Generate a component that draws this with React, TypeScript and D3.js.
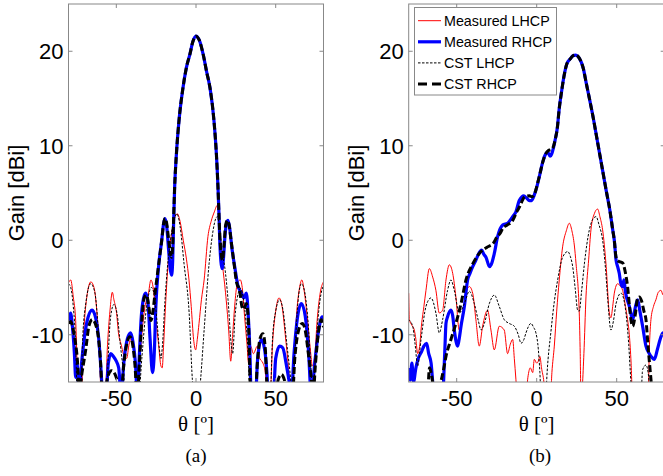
import { useEffect, useRef } from "react";
import * as d3 from "d3";

type Pt = [number, number]; // [theta deg, gain dBi]

// ---------- panel (a): broadside beam ----------
const measLhcpA: Pt[] = [
  [-80, -4.5], [-78.6, -4.2], [-77, -6], [-75.5, -8.5], [-74.8, -12], [-74, -16.5], [-72, -16.5], [-70.5, -10],
  [-68.5, -6], [-66, -4.4], [-64, -5], [-62, -8], [-60.5, -12], [-59.5, -16.5], [-57, -16.5], [-55.5, -11],
  [-54, -7.5], [-52.5, -5.5], [-51.5, -6.3], [-50, -7.5], [-48.5, -10], [-47, -11], [-45, -12.3], [-43.5, -12.5],
  [-42, -11], [-40, -10.2], [-38.5, -11.8], [-37, -14], [-35.5, -13], [-34, -10], [-32, -7], [-30, -5.8],
  [-28.3, -4.2], [-26.5, -5.5], [-25, -8.5], [-23.5, -11], [-22, -13.3], [-21.2, -13.5], [-20.3, -11], [-19, -6.5],
  [-17.5, -2.5], [-15.5, 0.5], [-13.5, 2.3], [-11.7, 2.8], [-10, 2], [-8, 0], [-6, -2], [-4.4, -4.2], [-3, -7],
  [-1.5, -10.5], [-0.2, -11.6], [0.8, -10.5], [1.9, -8.8], [3.4, -6.3], [5.1, -4.2], [7.5, 0.4], [9.5, 2],
  [11.5, 3], [13.4, 3.7], [15, 1], [16.6, -2.5], [18.5, -5.5], [20.5, -9.5], [21.8, -12.8], [23, -10],
  [24.5, -6.5], [26, -4.5], [27.8, -4.2], [29, -5], [30.5, -8.1], [32, -11], [33, -13], [34.3, -11.2], [36, -12],
  [38.5, -11.2], [40, -12.5], [42, -13], [43.5, -14], [44.8, -16.5], [46.5, -16.5], [48, -11], [50, -7.5],
  [52.1, -6.1], [54, -7], [56, -10], [58, -13.5], [59.4, -16.5], [61.5, -12], [63.5, -7], [65, -5], [66.4, -4.2],
  [68, -5.5], [70, -8.5], [72, -12], [73, -13.3], [74.5, -12.3], [76, -8.5], [78, -5.5], [80, -4.4],
];

const measRhcpA: Pt[] = [
  [-80, -8.5], [-78.7, -7.7], [-77.5, -9.2], [-76.3, -12], [-75.5, -14.5], [-74.6, -13], [-73.4, -16.5],
  [-71.8, -13], [-69.8, -10], [-67.8, -8.2], [-65.2, -7.4], [-63, -8.2], [-61, -10.5], [-59.5, -14],
  [-58.5, -16.5], [-56.5, -16.5], [-55, -13], [-53.5, -12], [-51.8, -12.3], [-50, -12.8], [-48.5, -13.5],
  [-47, -16.5], [-45.2, -12.8], [-43, -10.4], [-41, -9.8], [-39.5, -10.8], [-38, -13], [-36.8, -16.5],
  [-35.5, -12], [-34.5, -8.5], [-33, -6.2], [-31.6, -5.6], [-30.2, -6.5], [-28.8, -10.5], [-27.3, -14],
  [-26.2, -12], [-25.2, -7], [-23.6, -3], [-21.5, 0], [-20.3, 1.8], [-19.5, 2.3], [-18.4, 1.5], [-17.2, -1],
  [-16.2, -3], [-15.3, -3.7], [-14.6, -2], [-14.1, 1.5], [-13.4, 5.6], [-12.3, 9.1], [-10.7, 12.6],
  [-8.2, 16.1], [-6, 18.3], [-3.8, 19.7], [-2, 21], [0, 21.6], [2, 21.2], [4.6, 19.6], [6.7, 17.8],
  [8.8, 16.1], [11.3, 12.6], [12.8, 9.1], [13.8, 5.6], [14.4, 2.8], [14.9, 0], [15.6, -2.2], [16.4, -3],
  [17.2, -2], [18.2, 0.5], [19.2, 1.8], [20.1, 2.1], [21.2, 1.2], [22.5, -0.8], [24.3, -2.8], [26.3, -4.8],
  [28.5, -5.6], [30, -6.1], [31.6, -5.6], [32.8, -8], [33.7, -11.2], [34.7, -16.5], [37.3, -16.5],
  [38.7, -12.5], [41, -10.5], [43, -11.5], [44.5, -14], [45.4, -16.5], [48.5, -16.5], [50, -12.5],
  [52.5, -11.2], [54.5, -11.4], [56.5, -13], [58.5, -15], [59.8, -16.5], [61.5, -12], [63.5, -8.4],
  [66.1, -6.7], [68.5, -8], [70.5, -11.5], [72.4, -16.5], [74.5, -13], [77, -9.5], [79.2, -8.1], [80, -8.3],
];

const cstLhcpA: Pt[] = [
  [-80, -4.6], [-78.6, -5], [-77, -7], [-75.5, -11], [-74.5, -16.5], [-72.5, -16.5], [-71, -10], [-69, -6.5],
  [-66.1, -4.6], [-63.5, -5.5], [-61.5, -9], [-60, -13], [-59, -16.5], [-56, -16.5], [-55, -12], [-53.5, -8],
  [-51.5, -6.8], [-49.5, -7.8], [-47.5, -11], [-45.5, -14], [-44, -16.5], [-36, -16.5], [-34, -12.5],
  [-32, -8.5], [-30, -6], [-28, -5], [-26, -6], [-24.5, -8.5], [-23, -11.5], [-22, -12.5], [-21, -11],
  [-19.5, -6.5], [-18, -3], [-16, 0], [-14, 2], [-12.1, 2.8], [-10, 1.5], [-7.5, -2.5], [-4.3, -7.7],
  [-2.3, -14.7], [-1.5, -16.5], [2, -16.5], [3, -14.5], [5.1, -9.5], [8.2, -2.5], [10.5, 0.8], [12.4, 2.3],
  [13.4, 2.5], [15, 1], [16.6, -1.5], [18, -2.8], [20.1, -6.3], [22.2, -11.2], [23, -12], [24.5, -8], [26, -6],
  [28, -5.1], [30, -6.5], [32.6, -11.6], [34, -16.5], [46.5, -16.5], [48, -10.5], [50, -7.5], [52.5, -6.3],
  [54.5, -7.3], [57, -11], [59, -14], [60.5, -16.5], [62, -12], [64, -6.5], [66.1, -4.6], [68, -5.3], [70, -8],
  [72, -13], [73.4, -16.5], [75, -12], [77, -7.5], [79.7, -4.9], [80, -4.8],
];

const cstRhcpA: Pt[] = [
  [-80, -8.8], [-78.6, -8.6], [-77, -9.5], [-75.5, -11], [-74.5, -12.5], [-73.2, -16], [-71.5, -14],
  [-69.2, -11.6], [-67.2, -9.1], [-65, -8.4], [-62, -9.5], [-60, -12.6], [-58.8, -16], [-57, -16],
  [-55.5, -14.5], [-53, -13.8], [-50.5, -14.3], [-48.5, -15.5], [-47, -16.5], [-45.5, -13.5], [-43.5, -11],
  [-41.5, -10.2], [-40, -10.8], [-38.5, -12.8], [-36.8, -16.5], [-35.5, -13], [-34, -8.5], [-32.3, -6],
  [-31, -5.8], [-29.5, -7.2], [-28.3, -8.5], [-27, -7.5], [-25.7, -5.6], [-23.6, -2.8], [-21.5, 0],
  [-20.3, 1.8], [-19.5, 2.3], [-18.5, 1.9], [-17.3, 0.3], [-16.2, -1.2], [-15.4, -1.8], [-14.6, -0.5],
  [-14.1, 2], [-13.4, 5.6], [-12.3, 9.1], [-10.7, 12.6], [-8.2, 16.1], [-6, 18.3], [-3.8, 19.7], [-2, 21],
  [0, 21.6], [2, 21.2], [4.6, 19.6], [6.7, 17.8], [8.8, 16.1], [11.3, 12.6], [12.8, 9.1], [13.8, 5.6],
  [14.4, 2.8], [15, 0.3], [15.8, -1.5], [16.6, -2.1], [17.6, -0.5], [18.6, 1.6], [19.7, 2.1], [20.8, 1.6],
  [22, 0], [23.9, -2.5], [25.5, -4.5], [27.4, -5.3], [28.8, -7], [30, -7.3], [31.6, -6.7], [33, -9],
  [34.4, -16.5], [37.2, -16.5], [38.5, -13], [40.2, -10.4], [42, -9.9], [43.5, -11.5], [45, -16.5],
  [49.5, -16.5], [51.5, -14.8], [53.5, -14.2], [55.5, -14.8], [57, -16.5], [60.5, -16.5], [62, -12.5],
  [64, -9.8], [66.7, -8.8], [68.5, -9.5], [70.5, -12], [72.3, -14.5], [73.4, -16.5], [75, -13], [76.8, -9.8],
  [78.6, -8.4], [80, -9.2],
];

// ---------- panel (b): steered beam ----------
const measLhcpB: Pt[] = [
  [-80, -5.6], [-79.6, -8.4], [-78, -9], [-76.5, -9.5], [-75.5, -10.5], [-74.4, -12], [-73, -11], [-72.3, -9.5],
  [-70.5, -7], [-69.2, -5.3], [-67.1, -3], [-65, -3.9], [-63, -5.3], [-60.9, -7.7], [-58.8, -7.4], [-56.7, -4.2],
  [-54.6, -2.6], [-52.5, -3.5], [-50.5, -6], [-48.4, -9.5], [-46.3, -7.7], [-44.2, -5.6], [-42.1, -4.9],
  [-40, -5.6], [-38, -8.4], [-35.9, -11.2], [-33.8, -9.1], [-30.7, -7.4], [-28.6, -9.5], [-26.5, -11.6],
  [-23.4, -9.1], [-20.3, -9.5], [-18.2, -12], [-16.5, -11], [-15, -10.5], [-14, -12.5], [-13, -14.7],
  [-12, -17], [-7, -17], [-5.5, -14.5], [-4, -13.5], [-2.5, -14], [-1.5, -12.6], [0, -13], [1, -12.8],
  [2, -12.3], [3, -13.5], [4.5, -15], [5.5, -17], [8.5, -17], [9.5, -14], [11, -11.2], [12.5, -7.5],
  [14.1, -4.2], [16.2, -0.7], [18.5, 1], [20.4, 1.8], [22, 1], [23.5, -0.5], [24.6, -2.5], [26.6, -7.7],
  [27.2, -12], [27.7, -17], [29.5, -12], [30.8, -6], [32.5, -2], [33.9, 1.1], [36, 2.8], [38.1, 3.3],
  [39.5, 2.5], [41.2, 1.1], [43.3, -2.5], [45.4, -7.7], [46.4, -8.2], [47.5, -7], [48.5, -5.6], [50.6, -4.6],
  [52, -4.8], [53.7, -5.3], [55.5, -7], [56.8, -8.4], [57.9, -10], [59, -13], [60, -17], [69.5, -17],
  [70.5, -11], [71.4, -8.4], [73, -7], [74.5, -6.3], [76, -5.5], [77.7, -5.3], [79, -5.8], [80, -5.5],
];

const measRhcpB: Pt[] = [
  [-80, -13.5], [-79, -14.8], [-78, -13], [-77, -15], [-75.5, -13.5], [-74, -12.5], [-72, -11.8],
  [-70.5, -11.2], [-68.8, -10.9], [-67.5, -12], [-66, -13], [-65, -15], [-64, -17], [-59, -17], [-57.5, -12],
  [-56.7, -8.8], [-55.7, -8.1], [-53.6, -7.4], [-52.5, -8], [-51.5, -9.5], [-49.4, -11.2], [-48.5, -10.5],
  [-47.3, -9.1], [-45.2, -7], [-43.2, -4.2], [-41.7, -3.5], [-40, -2.8], [-38, -2.1], [-36.5, -1.5],
  [-34.4, -1.05], [-33, -1.5], [-31.7, -1.8], [-29.5, -2.8], [-28.5, -2.6], [-26.5, -1.4], [-24.4, 0.4],
  [-21.3, 1.6], [-18.2, 1.8], [-15, 2.5], [-13, 3], [-10.9, 4.2], [-8, 4.7], [-6.5, 4.5], [-4.5, 4.2],
  [-3.2, 4.2], [-1.5, 4.8], [0, 5.6], [2, 7], [3.5, 8.1], [5.2, 9], [7, 9.3], [8.3, 8.9], [9.5, 9.2],
  [10.5, 9.8], [11.5, 10.6], [12.9, 11.9], [14, 13.8], [15.6, 15.8], [17, 17.3], [18.7, 18.6], [21, 19.2],
  [22.5, 19.5], [24.5, 19.6], [26.5, 19.3], [29.1, 18.2], [31, 16.6], [33.3, 14.7], [35.5, 12.8],
  [37.5, 10.9], [39.5, 9], [41.6, 7], [43.5, 5.2], [45.8, 3.1], [47.5, 1.1], [48.5, 0], [49.6, -2.1],
  [50.6, -2.8], [51.6, -3.5], [52.5, -4.5], [53.7, -4.9], [54.5, -4.2], [55.5, -5.5], [57.9, -7], [60, -8.4],
  [61.5, -7.2], [63.1, -6.3], [64.5, -7.5], [66.2, -9.1], [68.3, -11.2], [70.4, -12], [72, -12.4],
  [73.5, -12.6], [75.5, -11.5], [77.7, -10.2], [79, -9.8], [80, -10],
];

const cstLhcpB: Pt[] = [
  [-80, -8.4], [-77.5, -9.1], [-76, -11], [-74.4, -13.3], [-72.3, -10.5], [-69.2, -7], [-66.1, -6.1],
  [-63, -7.7], [-60.9, -9.8], [-58.8, -8.4], [-55.7, -5.3], [-53.6, -4.2], [-51.5, -5.3], [-48.4, -7.7],
  [-45.2, -6.7], [-42.1, -5.4], [-39, -6.7], [-36.5, -8.5], [-34.8, -9.5], [-32.7, -8.8], [-29.6, -6.7],
  [-26.5, -5.8], [-23.4, -7], [-20.3, -8.4], [-17.2, -8.8], [-14, -9.1], [-11.5, -10], [-9.8, -10.9],
  [-8, -10.5], [-6.7, -9.8], [-3.6, -8.8], [-2, -9.2], [-0.5, -9.8], [1, -11.5], [2, -14], [2.8, -17],
  [5.5, -17], [6.5, -14], [9, -9.5], [11, -6.5], [13.1, -4.2], [16.2, -1.8], [19.4, -1.2], [21, -1.7],
  [22.5, -2.8], [24, -5], [25.6, -7.4], [26.6, -7.5], [28, -5.5], [29.8, -2.5], [32.9, 1.1], [35, 2.2],
  [37.1, 2.5], [39, 1.6], [41.2, 0], [43, -3], [44.3, -6], [46.4, -9.5], [48, -8.5], [49.6, -6.7],
  [52.7, -5.6], [54.5, -6.3], [55.8, -7.7], [57.5, -11], [58.9, -15], [60, -17], [65, -17], [66.2, -13.7],
  [68.3, -13.2], [70, -14.5], [71, -17], [80, -17],
];

const cstRhcpB: Pt[] = [
  [-80, -17], [-68.5, -17], [-67, -13.5], [-65.5, -14.5], [-64, -16], [-61, -15.5], [-58, -13.5],
  [-56.7, -12.3], [-53.6, -10.5], [-50.5, -8.8], [-47.3, -6.7], [-44.2, -4.2], [-40, -2.5], [-35.9, -1.4],
  [-30.7, -0.7], [-27.1, -0.3], [-25, 0.3], [-23, 0.7], [-21, 1.3], [-18.5, 1.6], [-15, 2.1], [-12.5, 3],
  [-10.5, 3.6], [-9, 4.2], [-7.5, 4.6], [-4.5, 4.7], [-3, 4.6], [-1.1, 5], [0.5, 6], [2, 7], [3.5, 8.1],
  [5.2, 9], [7.3, 9.5], [9, 9.6], [10.4, 9.9], [11.5, 10.6], [12.9, 11.9], [14, 13.8], [15.6, 15.8],
  [17, 17.3], [18.7, 18.6], [21, 19.2], [22.5, 19.5], [24.5, 19.6], [26.5, 19.3], [29.1, 18.2], [31, 16.6],
  [33.3, 14.7], [35.5, 12.8], [37.5, 10.9], [39.5, 9], [41.6, 7], [43.5, 5.2], [45.8, 3.1], [47.5, 1.1],
  [48.5, 0], [49.6, -1.8], [51, -2.2], [53.7, -2.4], [55.5, -3.5], [56.8, -4.9], [58, -7], [59, -8.5],
  [60, -9.1], [61.5, -8], [63, -6.2], [64.1, -6], [65.5, -6.4], [67, -7.5], [68.3, -8.4], [69.5, -11],
  [70.5, -13], [71.4, -14.7], [72.5, -17], [80, -17],
];

const xTicks = [-50, 0, 50];
const yTicks = [-10, 0, 10, 20];
const legendLabels = ["Measured LHCP", "Measured RHCP", "CST LHCP", "CST RHCP"];
const panelTags = ["(a)", "(b)"];

// line styles in plot order: meas LHCP, meas RHCP, CST LHCP, CST RHCP
const lineStyles = [
  { color: "#ff0000", width: 1, dash: "" },
  { color: "#0000ff", width: 3.2, dash: "" },
  { color: "#000000", width: 1, dash: "2.5,1.5" },
  { color: "#000000", width: 3, dash: "7,3" },
];

const W = 663;
const H = 476;
const SANS = "'Liberation Sans', Arial, sans-serif";
const SERIF = "'Liberation Serif', 'Times New Roman', serif";
const AXIS_GREY = "#888888";

export default function App() {
  const svgRef = useRef<SVGSVGElement>(null);

  useEffect(() => {
    const svg = d3.select(svgRef.current);
    svg.selectAll("*").remove();
    svg.append("rect").attr("width", W).attr("height", H).attr("fill", "#fff");

    const top = 4;
    const bottom = 382;
    const y = d3.scaleLinear().domain([-15, 25]).range([bottom, top]);

    const panels = [
      { left: 68.5, right: 323.5, series: [measLhcpA, measRhcpA, cstLhcpA, cstRhcpA], labelX: 24, legend: false },
      { left: 408.7, right: 664.7, series: [measLhcpB, measRhcpB, cstLhcpB, cstRhcpB], labelX: 364, legend: true },
    ];

    panels.forEach((p, pi) => {
      const x = d3.scaleLinear().domain([-80, 80]).range([p.left, p.right]);
      const g = svg.append("g");
      const clipId = `clip-${pi}`;
      g.append("clipPath").attr("id", clipId)
        .append("rect").attr("x", p.left).attr("y", top)
        .attr("width", p.right - p.left).attr("height", bottom - top);

      const line = d3.line<Pt>().x((d) => x(d[0])).y((d) => y(d[1])).curve(d3.curveMonotoneX);
      const plot = g.append("g").attr("clip-path", `url(#${clipId})`);
      p.series.forEach((s, si) => {
        const st = lineStyles[si];
        plot.append("path").attr("d", line(s))
          .attr("fill", "none").attr("stroke", st.color)
          .attr("stroke-width", st.width)
          .attr("stroke-linejoin", "round")
          .attr("stroke-dasharray", st.dash || null);
      });

      // box + inward ticks on all four sides
      g.append("rect").attr("x", p.left).attr("y", top)
        .attr("width", p.right - p.left).attr("height", bottom - top)
        .attr("fill", "none").attr("stroke", AXIS_GREY).attr("stroke-width", 1);
      const tl = 4;
      xTicks.forEach((t) => {
        g.append("line").attr("x1", x(t)).attr("x2", x(t)).attr("y1", bottom).attr("y2", bottom - tl).attr("stroke", AXIS_GREY);
        g.append("line").attr("x1", x(t)).attr("x2", x(t)).attr("y1", top).attr("y2", top + tl).attr("stroke", AXIS_GREY);
        g.append("text").attr("x", x(t)).attr("y", 406).attr("text-anchor", "middle")
          .attr("font-family", SANS).attr("font-size", 22).attr("fill", "#000")
          .text(t < 0 ? `-${Math.abs(t)}` : `${t}`);
      });
      yTicks.forEach((t) => {
        g.append("line").attr("x1", p.left).attr("x2", p.left + tl).attr("y1", y(t)).attr("y2", y(t)).attr("stroke", AXIS_GREY);
        g.append("line").attr("x1", p.right).attr("x2", p.right - tl).attr("y1", y(t)).attr("y2", y(t)).attr("stroke", AXIS_GREY);
        g.append("text").attr("x", p.left - 5).attr("y", y(t) + 8).attr("text-anchor", "end")
          .attr("font-family", SANS).attr("font-size", 22).attr("fill", "#000")
          .text(t < 0 ? `-${Math.abs(t)}` : `${t}`);
      });

      // axis labels
      g.append("text").attr("transform", `translate(${p.labelX},${(top + bottom) / 2}) rotate(-90)`)
        .attr("text-anchor", "middle").attr("font-family", SANS).attr("font-size", 22).attr("fill", "#000")
        .text("Gain [dBi]");
      const cx = (p.left + p.right) / 2;
      g.append("text").attr("x", cx).attr("y", 431).attr("text-anchor", "middle")
        .attr("font-family", SERIF).attr("font-size", 21).attr("fill", "#000")
        .text("θ [º]");
      g.append("text").attr("x", pi === 0 ? 196 : 540).attr("y", 462).attr("text-anchor", "middle")
        .attr("font-family", SERIF).attr("font-size", 19).attr("fill", "#000")
        .text(panelTags[pi]);

      if (p.legend) {
        const lg = g.append("g");
        lg.append("rect").attr("x", 414.5).attr("y", 7.5).attr("width", 142).attr("height", 87.5)
          .attr("fill", "#fff").attr("stroke", AXIS_GREY);
        legendLabels.forEach((lab, li) => {
          const st = lineStyles[li];
          const ly = 20.7 + li * 21.1;
          lg.append("line").attr("x1", 418).attr("x2", 441).attr("y1", ly).attr("y2", ly)
            .attr("stroke", st.color).attr("stroke-width", st.width)
            .attr("stroke-dasharray", li === 3 ? "9,5" : st.dash || null);
          lg.append("text").attr("x", 444).attr("y", ly + 5).attr("font-family", SANS)
            .attr("font-size", 14.3).attr("fill", "#000").text(lab);
        });
      }
    });
  }, []);

  return (
    <svg ref={svgRef} width={W} height={H}
      style={{ position: "absolute", left: 0, top: 0, display: "block" }} />
  );
}
